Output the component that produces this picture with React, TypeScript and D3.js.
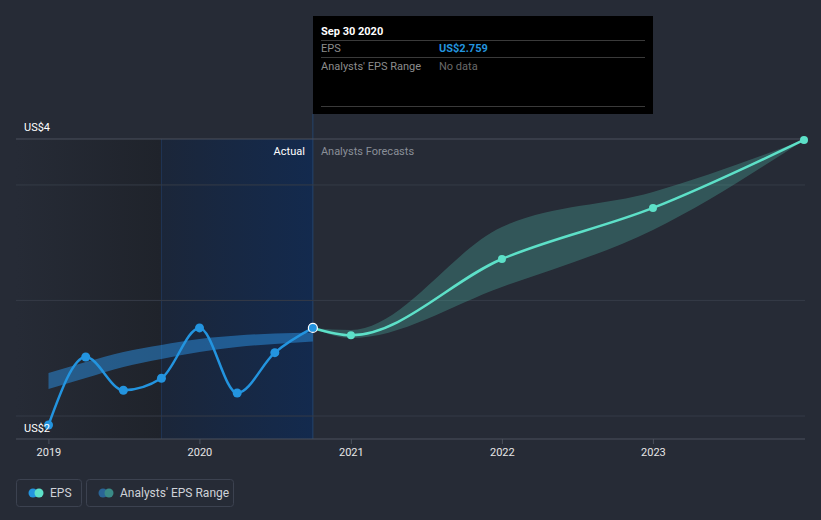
import React from "react";
import * as d3 from "d3";

const histDates = ["2018-12-31", "2019-03-31", "2019-06-30", "2019-09-30", "2019-12-31", "2020-03-31", "2020-06-30", "2020-09-30"];
const histEps = [2.096, 2.56, 2.333, 2.415, 2.759, 2.314, 2.59, 2.759];
const histRangeLow = [2.342, 2.417, 2.492, 2.547, 2.595, 2.629, 2.649, 2.666];
const histRangeHigh = [2.451, 2.526, 2.595, 2.643, 2.684, 2.707, 2.721, 2.728];

const fcDates = ["2020-09-30", "2020-12-31", "2021-12-31", "2022-12-31", "2023-12-31"];
const fcEps = [2.759, 2.709, 3.23, 3.579, 4.044];
const fcLow = [2.759, 2.69, 3.039, 3.429, 4.044];
const fcHigh = [2.759, 2.745, 3.449, 3.688, 4.044];

const xTickYears = ["2019", "2020", "2021", "2022", "2023"];
const gridValues = [2.157, 2.947, 3.736, 4.05];
const yLabels = [{ v: 4.05, t: "US$4" }, { v: 2, t: "US$2" }];

const W = 821, H = 520;
const BG = "#262b36";
const FONT = "Roboto, 'Open Sans', sans-serif";

export default function App() {
  const pd = (s: string) => new Date(s + "T00:00:00");
  const x = d3.scaleTime().domain([pd("2018-12-31"), pd("2023-12-31")]).range([48.5, 804]);
  const y = d3.scaleLinear().domain([2, 4.05]).range([439, 139]);

  const hist = histDates.map((d, i) => ({ d: pd(d), v: histEps[i], lo: histRangeLow[i], hi: histRangeHigh[i] }));
  const fc = fcDates.map((d, i) => ({ d: pd(d), v: fcEps[i], lo: fcLow[i], hi: fcHigh[i] }));

  const line = d3.line<any>().x((p) => x(p.d)).y((p) => y(p.v)).curve(d3.curveMonotoneX);
  const area = d3.area<any>().x((p) => x(p.d)).y0((p) => y(p.lo)).y1((p) => y(p.hi)).curve(d3.curveMonotoneX);

  const left = 16, right = 805;
  const xDark = x(pd("2019-09-30"));
  const xNow = x(pd("2020-09-30"));
  const top = y(4.05), bottom = y(2);

  return (
    <svg width={W} height={H} style={{ position: "absolute", left: 0, top: 0, fontFamily: FONT }}>
      <defs>
        <linearGradient id="darkG" x1="0" x2="1" y1="0" y2="0">
          <stop offset="0" stopColor="#262b36" />
          <stop offset="1" stopColor="#1f232b" />
        </linearGradient>
        <linearGradient id="blueG" x1="0" x2="1" y1="0" y2="0">
          <stop offset="0" stopColor="#1b2639" />
          <stop offset="1" stopColor="#132a4e" />
        </linearGradient>
      </defs>
      <rect x={0} y={0} width={W} height={H} fill={BG} />
      <rect x={left} y={top} width={xDark - left} height={bottom - top} fill="url(#darkG)" />
      <rect x={xDark} y={top} width={xNow - xDark} height={bottom - top} fill="url(#blueG)" />
      <line x1={xDark} x2={xDark} y1={top} y2={bottom} stroke="#1f3556" strokeWidth={1} />
      <line x1={xNow} x2={xNow} y1={114} y2={bottom} stroke="#24446c" strokeWidth={1} />

      {gridValues.map((g, i) => (
        <line key={i} x1={left} x2={right} y1={y(g)} y2={y(g)} stroke={i === gridValues.length - 1 ? "#4a505c" : "#353b47"} strokeWidth={1} />
      ))}
      <line x1={left} x2={right} y1={bottom} y2={bottom} stroke="#4a505c" strokeWidth={1} />
      {xTickYears.map((t) => {
        const xx = x(pd(t + "-01-01"));
        return (
          <g key={t}>
            <line x1={xx} x2={xx} y1={bottom} y2={bottom + 5} stroke="#4a505c" />
            <text x={xx} y={456} fill="#e6e6e6" fontSize={11} textAnchor="middle">{t}</text>
          </g>
        );
      })}

      <text x={xNow - 8} y={155} fill="#ffffff" fontSize={11} textAnchor="end">Actual</text>
      <text x={xNow + 8} y={155} fill="#8a8f98" fontSize={11}>Analysts Forecasts</text>

      <path d={area(fc) || ""} fill="#5de0c8" fillOpacity={0.24} />
      <path d={area(hist) || ""} fill="#2a86d4" fillOpacity={0.55} />

      <path d={line(hist) || ""} fill="none" stroke="#2394df" strokeWidth={2.5} />
      <path d={line(fc) || ""} fill="none" stroke="#5de0c8" strokeWidth={2.5} />
      {hist.slice(0, -1).map((p, i) => (
        <circle key={i} cx={x(p.d)} cy={y(p.v)} r={4.5} fill="#2394df" />
      ))}
      {fc.slice(1).map((p, i) => (
        <circle key={i} cx={x(p.d)} cy={y(p.v)} r={4} fill="#5de0c8" />
      ))}
      <circle cx={x(hist[hist.length - 1].d)} cy={y(hist[hist.length - 1].v)} r={4.5} fill="#2394df" stroke="#ffffff" strokeWidth={1.2} />

      {yLabels.map((l) => (
        <text key={l.t} x={24} y={l.v === 2 ? 432 : y(l.v) - 8} fill="#ffffff" fontSize={11}>{l.t}</text>
      ))}

      <rect x={313} y={16} width={340} height={98} fill="#000000" />
      <text x={321} y={35} fill="#ffffff" fontSize={11} fontWeight="bold">Sep 30 2020</text>
      <line x1={321} x2={645} y1={40.5} y2={40.5} stroke="#3a3a3a" />
      <text x={321} y={52} fill="#8c8c8c" fontSize={11}>EPS</text>
      <text x={439} y={52} fill="#2394df" fontSize={11} fontWeight="bold">US$2.759</text>
      <line x1={321} x2={645} y1={57.5} y2={57.5} stroke="#3a3a3a" />
      <text x={321} y={70} fill="#8c8c8c" fontSize={11}>Analysts' EPS Range</text>
      <text x={439} y={70} fill="#6a6a6a" fontSize={11}>No data</text>
      <line x1={321} x2={645} y1={106.5} y2={106.5} stroke="#3a3a3a" />

      <rect x={16.5} y={479.5} width={65} height={27} rx={3} fill="none" stroke="#3c4250" />
      <circle cx={33} cy={493} r={4.5} fill="#2394df" />
      <circle cx={39} cy={493} r={4.5} fill="#5de0c8" />
      <text x={50} y={497} fill="#cfd2d8" fontSize={12}>EPS</text>
      <rect x={86.5} y={479.5} width={147} height={27} rx={3} fill="none" stroke="#3c4250" />
      <circle cx={103} cy={493} r={4.5} fill="#2a6496" />
      <circle cx={109} cy={493} r={4.5} fill="#3a8a86" />
      <text x={120} y={497} fill="#cfd2d8" fontSize={12}>Analysts' EPS Range</text>
    </svg>
  );
}
